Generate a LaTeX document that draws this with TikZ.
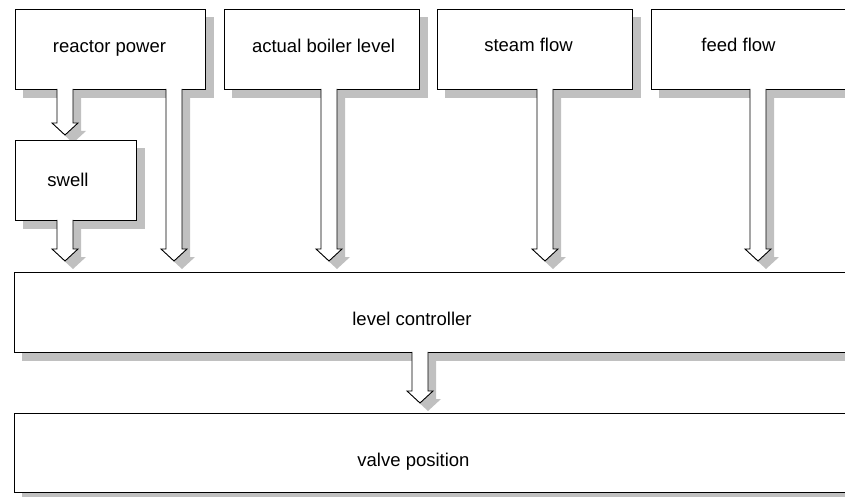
\documentclass[tikz,border=0pt]{standalone}
\usepackage{fontspec}
\setmainfont{Liberation Sans}
\usetikzlibrary{calc}
\pgfdeclarelayer{shadow}
\pgfsetlayers{shadow,main}
\definecolor{shadowgrey}{RGB}{192,192,192}
\tikzset{
  box/.style={draw=black, line width=0.9pt, fill=white, rectangle,
    anchor=north west, inner sep=0pt},
  lbl/.style={anchor=base, inner sep=0pt, font=\fontsize{18.5}{22}\selectfont},
  arrowbody/.style={draw=black, line width=0.9pt, fill=white, line join=miter},
  arrowshade/.style={fill=shadowgrey},
}
% grey drop shadow behind a box node
\newcommand\boxshade[1]{%
  \begin{pgfonlayer}{shadow}
    \fill[shadowgrey] ([shift={(8pt,-8pt)}]#1.south west)
      rectangle ([shift={(8pt,-8pt)}]#1.north east);
  \end{pgfonlayer}}
% hollow block arrow: #1 style, #2 source node, #3 target node,
% #4 x position (pt), #5 offset (pt), #6 gap between tip and target (pt)
\newcommand\blockarrow[6]{%
  \path[#1] let \p1=(#2.south), \p2=(#3.north) in
    ({#4pt-8pt+#5pt},{\y1+1pt-#5pt}) --
    ({#4pt-8pt+#5pt},{\y2+#6pt+12pt-#5pt}) --
    ({#4pt-13pt+#5pt},{\y2+#6pt+12pt-#5pt}) --
    ({#4pt+#5pt},{\y2+#6pt-#5pt}) --
    ({#4pt+13pt+#5pt},{\y2+#6pt+12pt-#5pt}) --
    ({#4pt+8pt+#5pt},{\y2+#6pt+12pt-#5pt}) --
    ({#4pt+8pt+#5pt},{\y1+1pt-#5pt});}
\newcommand\flowarrow[4]{%
  \begin{pgfonlayer}{shadow}
    \blockarrow{arrowshade}{#1}{#2}{#3}{8}{#4}
  \end{pgfonlayer}
  \blockarrow{arrowbody}{#1}{#2}{#3}{0}{#4}}
\begin{document}
\begin{tikzpicture}[x=1pt,y=-1pt]
  \useasboundingbox (0,0) rectangle (845,497);

  % input boxes
  \node[box, minimum width=190pt, minimum height=80pt] (rp) at (15,9) {};
  \node[box, minimum width=195pt, minimum height=80pt] (abl) at (224,9) {};
  \node[box, minimum width=195pt, minimum height=80pt] (sf) at (437,9) {};
  \node[box, minimum width=215pt, minimum height=80pt] (ff) at (651,9) {};
  \node[box, minimum width=121pt, minimum height=80pt] (sw) at (15,140) {};
  % controller and output
  \node[box, minimum width=850pt, minimum height=80pt] (lc) at (14,272) {};
  \node[box, minimum width=850pt, minimum height=79pt] (vp) at (14,413) {};

  \foreach \b in {rp,abl,sf,ff,sw,lc,vp}{\boxshade{\b}}

  % labels
  \node[lbl] (rp-t) at (109.5,53) {reactor power};
  \node[lbl] (abl-t) at (323.5,53) {actual boiler level};
  \node[lbl] (sf-t) at (528.5,52) {steam flow};
  \node[lbl] (ff-t) at (738.5,52) {feed flow};
  \node[lbl] (sw-t) at (68,186) {swell};
  \node[lbl] (lc-t) at (412,325) {level controller};
  \node[lbl] (vp-t) at (413.5,466) {valve position};

  % signal arrows
  \flowarrow{rp}{sw}{65}{5}
  \flowarrow{sw}{lc}{65}{11}
  \flowarrow{rp}{lc}{174}{11}
  \flowarrow{abl}{lc}{329}{11}
  \flowarrow{sf}{lc}{545}{11}
  \flowarrow{ff}{lc}{758}{11}
  \flowarrow{lc}{vp}{420}{10}
\end{tikzpicture}
\end{document}
